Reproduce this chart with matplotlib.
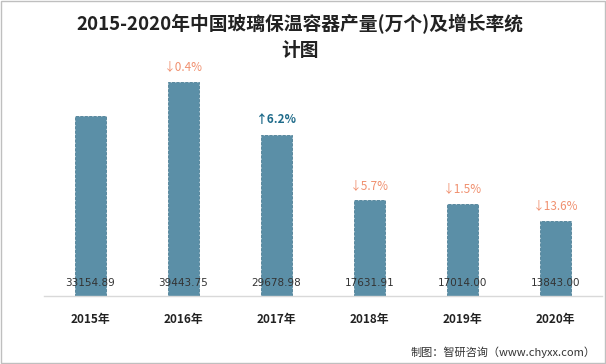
import matplotlib
matplotlib.use("Agg")
import matplotlib.pyplot as plt
from matplotlib.patches import Rectangle

plt.rcParams['font.family'] = ['Noto Sans CJK SC', 'DejaVu Sans']

years = ['2015年', '2016年', '2017年', '2018年', '2019年', '2020年']
output = [33154.89, 39443.75, 29678.98, 17631.91, 17014.00, 13843.00]
growth = [None, -0.4, 6.2, -5.7, -1.5, -13.6]

bar_color = '#5b8fa7'
down_color = '#f0906f'
up_color = '#1f6b8a'

fig = plt.figure(figsize=(6.06, 3.64), dpi=100)
ax = fig.add_axes([0.072, 0.187, 0.922, 0.67])

x = list(range(len(years)))
ax.bar(x, output, width=0.33, color=bar_color, edgecolor='#4d7f96',
       linewidth=0.6, linestyle='--', zorder=2)

ax.set_xlim(-0.5, len(years) - 0.5)
ax.set_ylim(0, 45000)

# value labels near the baseline
for i, v in enumerate(output):
    ax.annotate(f'{v:.2f}', (i, 0), xytext=(0, 9), textcoords='offset points',
                ha='center', va='center', fontsize=7.5, color='#333333',
                family=['DejaVu Sans'], zorder=3)

# growth labels above the bars
for i, g in enumerate(growth):
    if g is None:
        continue
    if g < 0:
        txt, col, wt = f'↓{abs(g):.1f}%', down_color, 'normal'
    else:
        txt, col, wt = f'↑{g:.1f}%', up_color, 'bold'
    ax.annotate(txt, (i, output[i]), xytext=(0, 11), textcoords='offset points',
                ha='center', va='center', fontsize=8.5, color=col, fontweight=wt)

ax.set_xticks(x)
ax.set_xticklabels(years, fontsize=8.5, fontweight='bold', color='#222222')
ax.tick_params(axis='x', length=0, pad=12)
ax.set_yticks([])
for s in ['top', 'right', 'left']:
    ax.spines[s].set_visible(False)
ax.spines['bottom'].set_color('#d9d9d9')
ax.spines['bottom'].set_linewidth(1)

fig.text(0.495, 0.935, '2015-2020年中国玻璃保温容器产量(万个)及增长率统',
         ha='center', va='center', fontsize=13.5, fontweight='bold', color='#222222')
fig.text(0.495, 0.862, '计图', ha='center', va='center', fontsize=13.5,
         fontweight='bold', color='#222222')

fig.text(0.983, 0.033, '制图：智研咨询（www.chyxx.com）', ha='right', va='center',
         fontsize=8, color='#333333')

fig.patches.append(Rectangle((0.001, 0.002), 0.997, 0.995, transform=fig.transFigure,
                             fill=False, edgecolor='#bfbfbf', linewidth=1))

fig.savefig('out.png', dpi=100)
